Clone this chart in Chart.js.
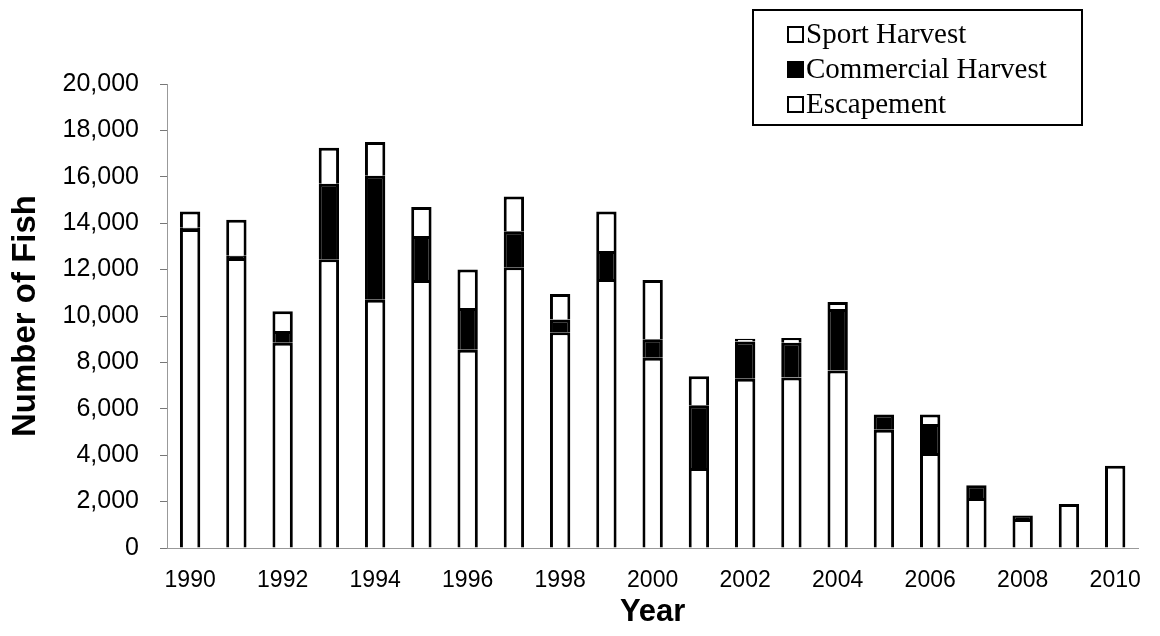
<!DOCTYPE html>
<html>
<head>
<meta charset="utf-8">
<script src="https://cdn.jsdelivr.net/npm/chart.js@4"></script>
<style>
  body { margin: 0; background: #fff; }
</style>
</head>
<body>
<canvas id="fish" width="1160" height="636"></canvas>
<script>
const years = ['1990', '1991', '1992', '1993', '1994', '1995', '1996', '1997', '1998', '1999', '2000',
  '2001', '2002', '2003', '2004', '2005', '2006', '2007', '2008', '2009', '2010'];
const escapement = [13750, 12500, 8850, 12450, 10700, 11550, 8550, 12100, 9300, 11600, 8200,
  3450, 7300, 7350, 7650, 5100, 4100, 2150, 1250, 1900, 3550];
const commercial = [50, 100, 500, 3250, 5350, 1900, 1800, 1550, 550, 1200, 800,
  2700, 1600, 1500, 2650, 650, 1250, 550, 150, 0, 0];
const sport = [700, 1550, 850, 1550, 1450, 1250, 1650, 1500, 1100, 1700, 2550,
  1250, 120, 200, 300, 0, 400, 0, 0, 0, 0];
const yTicks = [0, 2000, 4000, 6000, 8000, 10000, 12000, 14000, 16000, 18000, 20000];

// legend box drawn by hand, top to bottom = Sport, Commercial, Escapement
const boxLegend = {
  id: 'boxLegend',
  afterDraw(chart) {
    const ctx = chart.ctx;
    ctx.save();
    ctx.strokeStyle = '#000';
    ctx.lineWidth = 2;
    ctx.strokeRect(753, 10, 329, 115);
    ctx.font = '29px "Liberation Serif", "Times New Roman", serif';
    ctx.textBaseline = 'middle';
    const items = chart.data.datasets.slice().reverse();
    items.forEach((ds, i) => {
      const y = 34 + i * 35;
      ctx.fillStyle = ds.backgroundColor;
      ctx.fillRect(788, y - 7, 15, 15);
      ctx.lineWidth = 2;
      ctx.strokeRect(788, y - 7, 15, 15);
      ctx.fillStyle = '#000';
      ctx.fillText(ds.label, 806, y + 1);
    });
    ctx.restore();
  }
};

new Chart(document.getElementById('fish'), {
  type: 'bar',
  data: {
    labels: years,
    datasets: [
      { label: 'Escapement', data: escapement, backgroundColor: '#ffffff' },
      { label: 'Commercial Harvest', data: commercial, backgroundColor: '#000000' },
      { label: 'Sport Harvest', data: sport, backgroundColor: '#ffffff' }
    ]
  },
  options: {
    responsive: false,
    animation: false,
    layout: { padding: { top: 84, right: 10, left: 0, bottom: 0 } },
    datasets: {
      bar: {
        borderColor: '#000',
        borderWidth: 3,
        barPercentage: 0.44,
        categoryPercentage: 1
      }
    },
    plugins: {
      legend: { display: false },
      tooltip: { enabled: false }
    },
    scales: {
      x: {
        stacked: true,
        grid: { display: false, drawTicks: false },
        border: { display: true, color: '#999', width: 1, dash: [2, 2] },
        ticks: {
          autoSkip: false,
          maxRotation: 0,
          padding: 19,
          color: '#000',
          font: { family: '"Liberation Sans", Arial, sans-serif', size: 23 },
          callback: (v, i) => (i % 2 === 0 ? years[i] : '')
        },
        title: {
          display: true,
          text: 'Year',
          color: '#000',
          font: { family: '"Liberation Sans", Arial, sans-serif', size: 31, weight: 'bold', lineHeight: 1.2 },
          padding: { top: 0, bottom: 5 }
        },
        afterFit(scale) { scale.height = 88; }
      },
      y: {
        stacked: true,
        min: 0,
        max: 20000,
        afterBuildTicks(scale) { scale.ticks = yTicks.map(v => ({ value: v })); },
        grid: { drawOnChartArea: false, drawTicks: true, tickLength: 7, color: '#777' },
        border: { display: true, color: '#999', width: 1, dash: [2, 2] },
        ticks: {
          padding: 21,
          color: '#000',
          font: { family: '"Liberation Sans", Arial, sans-serif', size: 25 },
          callback: v => v.toLocaleString('en-US')
        },
        title: {
          display: true,
          text: 'Number of Fish',
          color: '#000',
          font: { family: '"Liberation Sans", Arial, sans-serif', size: 33, weight: 'bold', lineHeight: 1.2 },
          padding: { top: 6, bottom: 0 }
        },
        afterFit(scale) { scale.width = 167; }
      }
    }
  },
  plugins: [boxLegend]
});
</script>
</body>
</html>
